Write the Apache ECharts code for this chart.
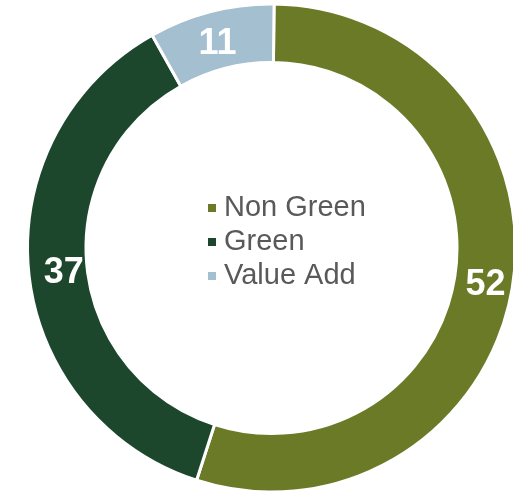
<!DOCTYPE html>
<html>
<head>
<meta charset="utf-8">
<style>
  html, body { margin: 0; padding: 0; background: #ffffff; }
  #chart { width: 513px; height: 493px; }
</style>
<script src="https://cdn.jsdelivr.net/npm/echarts@6/dist/echarts.min.js"></script>
</head>
<body>
<div id="chart"></div>
<script>
// Categories and displayed values (data labels)
const categories = ['Non Green', 'Green', 'Value Add'];
const values = [52, 37, 11];
// Angular share of each ring segment as drawn in the picture (percent of full circle)
const arcShares = [54.8, 36.9, 8.3];

// Styling (kept separate from data)
const colors = ['#6B7A27', '#1C472C', '#A4BFD0'];
const labelNudges = [[-1, 2], [9, 3], [0, 7]];

const chart = echarts.init(document.getElementById('chart'), null, { renderer: 'canvas' });

const seriesData = categories.map((name, i) => ({
  name: name,
  value: arcShares[i],
  itemStyle: { color: colors[i] },
  label: { offset: labelNudges[i] }
}));

chart.setOption({
  animation: false,
  backgroundColor: '#ffffff',
  legend: {
    orient: 'vertical',
    left: 206,
    top: 191,
    padding: 0,
    itemGap: 0,
    itemWidth: 10,
    itemHeight: 10,
    icon: 'rect',
    selectedMode: false,
    data: categories,
    textStyle: {
      fontFamily: 'Liberation Sans, Arial, sans-serif',
      fontSize: 29,
      lineHeight: 34,
      color: '#595959',
      padding: [0, 0, 0, 2]
    }
  },
  series: [{
    type: 'pie',
    center: [271.5, 248],
    radius: [185.5, 244],
    startAngle: 89.4,
    clockwise: true,
    avoidLabelOverlap: false,
    silent: true,
    itemStyle: {
      borderColor: '#ffffff',
      borderWidth: 3
    },
    label: {
      show: true,
      position: 'inside',
      formatter: (p) => String(values[p.dataIndex]),
      color: '#ffffff',
      fontFamily: 'Liberation Sans, Arial, sans-serif',
      fontWeight: 'bold',
      fontSize: 36
    },
    labelLine: { show: false },
    data: seriesData
  }]
});
</script>
</body>
</html>
